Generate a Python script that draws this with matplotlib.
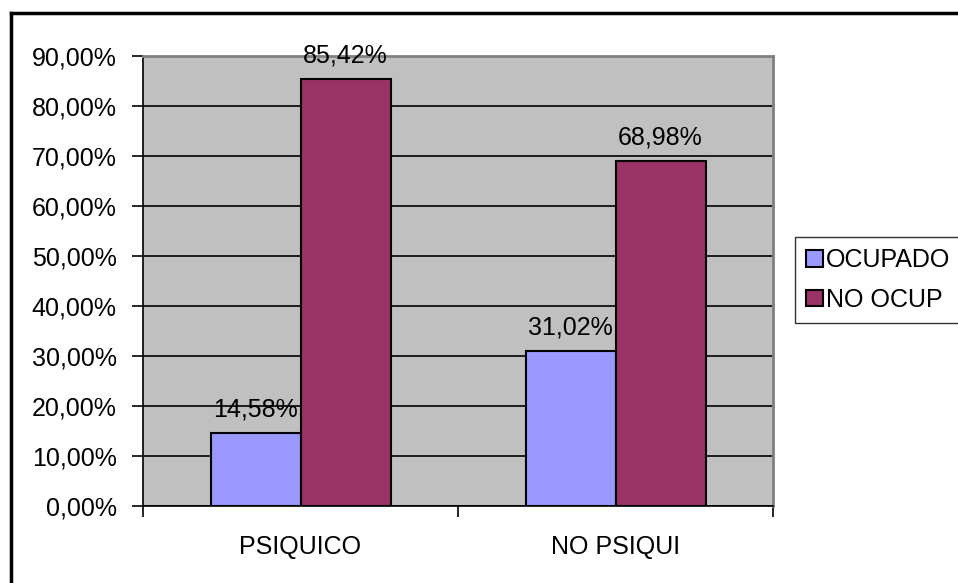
import numpy as np
import matplotlib
matplotlib.use("Agg")
import matplotlib.pyplot as plt
from matplotlib.lines import Line2D
from matplotlib.ticker import FixedLocator

# datos
categorias = ["PSIQUICO", "NO PSIQUI"]
ocupado = [0.1458, 0.3102]
no_ocup = [0.8542, 0.6898]
series = ["OCUPADO", "NO OCUP"]
colores = ["#9999FF", "#993366"]
yticks = np.arange(0, 0.91, 0.10)

plt.rcParams["font.family"] = ["Liberation Sans", "DejaVu Sans"]
FS = 18

fig = plt.figure(figsize=(9.58, 5.83), dpi=100)
ax = fig.add_axes([143 / 958, 77 / 583, 630 / 958, 450 / 583])
ax.set_facecolor("#C0C0C0")

x = np.arange(len(categorias))
w = 1 / 3.5  # gap width 150%
for vals, off, col, nom in [(ocupado, -w / 2, colores[0], series[0]),
                            (no_ocup, w / 2, colores[1], series[1])]:
    bars = ax.bar(x + off, vals, width=w, color=col, edgecolor="black",
                  linewidth=1.5, label=nom, zorder=3)
    for b, v in zip(bars, vals):
        ax.annotate(f"{v * 100:.2f}%".replace(".", ","),
                    (b.get_x() + b.get_width() / 2, v),
                    xytext=(0, 8), textcoords="offset points",
                    ha="center", va="bottom", fontsize=FS, zorder=4)

ax.set_xlim(-0.5, 1.5)
ax.set_ylim(0, 0.9)
ax.set_yticks(yticks)
ax.set_yticklabels([f"{t * 100:.2f}%".replace(".", ",") for t in yticks],
                   fontsize=FS)
ax.yaxis.grid(True, color="black", linewidth=1.2, zorder=1)
ax.set_axisbelow(True)

ax.set_xticks(x)
ax.set_xticklabels(categorias, fontsize=FS)
ax.xaxis.set_minor_locator(FixedLocator([-0.5, 0.5, 1.5]))
ax.tick_params(axis="x", which="major", length=0, pad=21)
ax.tick_params(axis="x", which="minor", length=8, width=1.2, direction="out")
ax.tick_params(axis="y", length=8, width=1.2, pad=11, direction="out")

for s in ["top", "right"]:
    ax.spines[s].set_color("#808080")
    ax.spines[s].set_linewidth(2)
for s in ["left", "bottom"]:
    ax.spines[s].set_color("black")
    ax.spines[s].set_linewidth(1.2)

leg = fig.legend(loc="upper left", bbox_to_anchor=(795 / 958, 1 - 237 / 583),
                 fontsize=FS, frameon=True, fancybox=False,
                 handlelength=0.65, handleheight=0.65, handletextpad=0.15,
                 borderpad=0.45, labelspacing=0.62, borderaxespad=0)
leg.get_frame().set_edgecolor("black")
leg.get_frame().set_linewidth(1.0)

# marco del gráfico
fig.add_artist(Line2D([11 / 958, 11 / 958], [0, 1 - 13 / 583],
                      color="black", linewidth=2.5))
fig.add_artist(Line2D([11 / 958, 1], [1 - 13 / 583, 1 - 13 / 583],
                      color="black", linewidth=2.5))

fig.savefig("out.png", dpi=100, facecolor="white")
